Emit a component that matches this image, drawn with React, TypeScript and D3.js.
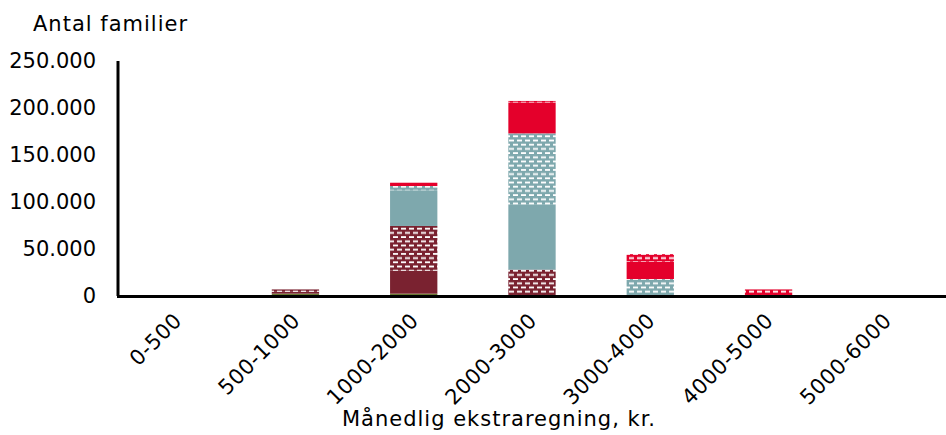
import React, { useRef, useEffect } from 'react';
import * as d3 from 'd3';

// Monthly extra bill brackets (kr.)
const categories = ['0-500', '500-1000', '1000-2000', '2000-3000', '3000-4000', '4000-5000', '5000-6000'];

// Number of families per group, stacked bottom -> top
const groupA = [0, 2500, 2500, 0, 0, 0, 0];
const groupB = [0, 2000, 24500, 0, 0, 0, 0];
const groupC = [0, 2500, 47500, 28000, 0, 0, 0];
const groupD = [0, 0, 38000, 69000, 0, 0, 0];
const groupE = [0, 0, 4500, 76000, 18000, 0, 0];
const groupF = [0, 0, 3500, 33000, 18500, 0, 0];
const groupG = [0, 0, 0, 1500, 8000, 7000, 0];

const yTicks = [0, 50000, 100000, 150000, 200000, 250000];

const W = 946;
const H = 435;
const FONT = 'DejaVu Sans, sans-serif';

const seriesStyle = [
    { key: 'a', values: groupA, color: '#6A7B34', pattern: false },
    { key: 'b', values: groupB, color: '#7A2230', pattern: false },
    { key: 'c', values: groupC, color: '#7A2230', pattern: true },
    { key: 'd', values: groupD, color: '#7EA8AD', pattern: false },
    { key: 'e', values: groupE, color: '#7EA8AD', pattern: true },
    { key: 'f', values: groupF, color: '#E4002B', pattern: false },
    { key: 'g', values: groupG, color: '#E4002B', pattern: true },
];

export default function App() {
    const svgRef = useRef<SVGSVGElement>(null);

    useEffect(() => {
        if (!svgRef.current) return;
        const svg = d3.select(svgRef.current);
        svg.selectAll('*').remove();

        const x = d3.scaleBand<string>()
            .domain(categories)
            .range([118, 946])
            .paddingInner(0.6)
            .paddingOuter(0.3);

        const y = d3.scaleLinear()
            .domain([0, 250000])
            .range([296, 61]);

        const locale = d3.formatLocale({ decimal: ',', thousands: '.', grouping: [3], currency: ['', ' kr.'] });
        const fmt = locale.format(',d');

        // patterns: white brick dashes on colour
        const defs = svg.append('defs');
        seriesStyle.filter(s => s.pattern).forEach(s => {
            const p = defs.append('pattern')
                .attr('id', 'pat-' + s.key)
                .attr('patternUnits', 'userSpaceOnUse')
                .attr('width', 8)
                .attr('height', 8.4);
            p.append('rect').attr('width', 8).attr('height', 8.4).attr('fill', s.color);
            p.append('rect').attr('x', 1).attr('y', 1).attr('width', 5).attr('height', 1.8).attr('fill', '#fff');
            p.append('rect').attr('x', 5).attr('y', 5.2).attr('width', 3).attr('height', 1.8).attr('fill', '#fff');
            p.append('rect').attr('x', 0).attr('y', 5.2).attr('width', 2).attr('height', 1.8).attr('fill', '#fff');
        });

        const rows = categories.map((c, i) => {
            const r: any = { cat: c };
            seriesStyle.forEach(s => { r[s.key] = s.values[i]; });
            return r;
        });
        const stacked = d3.stack().keys(seriesStyle.map(s => s.key))(rows);

        stacked.forEach((layer, li) => {
            const s = seriesStyle[li];
            svg.append('g')
                .selectAll('rect')
                .data(layer.filter(d => d[1] - d[0] > 0))
                .join('rect')
                .attr('x', d => x((d.data as any).cat)!)
                .attr('width', x.bandwidth())
                .attr('y', d => y(d[1]))
                .attr('height', d => y(d[0]) - y(d[1]))
                .attr('fill', s.pattern ? `url(#pat-${s.key})` : s.color);
        });

        // axes lines
        svg.append('line')
            .attr('x1', 118).attr('x2', 118)
            .attr('y1', y(250000)).attr('y2', y(0))
            .attr('stroke', '#000').attr('stroke-width', 3);
        svg.append('line')
            .attr('x1', 117).attr('x2', 946)
            .attr('y1', y(0) + 0.5).attr('y2', y(0) + 0.5)
            .attr('stroke', '#000').attr('stroke-width', 3);

        // y tick labels
        svg.append('g')
            .selectAll('text')
            .data(yTicks)
            .join('text')
            .attr('x', 96)
            .attr('y', d => y(d))
            .attr('dy', '0.35em')
            .attr('text-anchor', 'end')
            .attr('font-family', FONT)
            .attr('font-size', 21)
            .attr('fill', '#000')
            .text(d => fmt(d));

        // x tick labels, rotated
        svg.append('g')
            .selectAll('text')
            .data(categories)
            .join('text')
            .attr('transform', d => `translate(${x(d)! + x.bandwidth() / 2 + 6}, 322) rotate(-45)`)
            .attr('text-anchor', 'end')
            .attr('font-family', FONT)
            .attr('font-size', 21)
            .attr('letter-spacing', 0.5)
            .attr('fill', '#000')
            .text(d => d);

        svg.append('text')
            .attr('x', 33)
            .attr('y', 31)
            .attr('font-family', FONT)
            .attr('font-size', 21)
            .attr('letter-spacing', 1)
            .attr('fill', '#000')
            .text('Antal familier');

        svg.append('text')
            .attr('x', 499)
            .attr('y', 426)
            .attr('text-anchor', 'middle')
            .attr('font-family', FONT)
            .attr('font-size', 21)
            .attr('letter-spacing', 1)
            .attr('fill', '#000')
            .text('Månedlig ekstraregning, kr.');
    }, []);

    return (
        <svg
            ref={svgRef}
            width={W}
            height={H}
            style={{ position: 'absolute', left: 0, top: 0, background: '#fff' }}
        />
    );
}
